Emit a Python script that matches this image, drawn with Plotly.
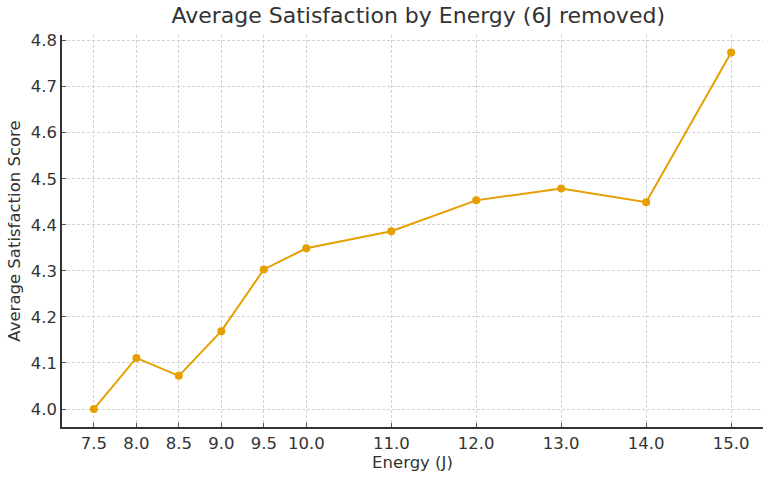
import plotly.graph_objects as go

energy = [7.5, 8.0, 8.5, 9.0, 9.5, 10.0, 11.0, 12.0, 13.0, 14.0, 15.0]
satisfaction = [4.000, 4.111, 4.072, 4.169, 4.303, 4.349, 4.386, 4.453, 4.479, 4.449, 4.774]
x_ticks = [7.5, 8.0, 8.5, 9.0, 9.5, 10.0, 11.0, 12.0, 13.0, 14.0, 15.0]
x_tick_labels = ["7.5", "8.0", "8.5", "9.0", "9.5", "10.0", "11.0", "12.0", "13.0", "14.0", "15.0"]
y_ticks = [4.0, 4.1, 4.2, 4.3, 4.4, 4.5, 4.6, 4.7, 4.8]
y_tick_labels = ["4.0", "4.1", "4.2", "4.3", "4.4", "4.5", "4.6", "4.7", "4.8"]

color = "#E69F00"
txt = "#333333"
font = "DejaVu Sans"
fs = 16.5

fig = go.Figure()
fig.add_trace(go.Scatter(
    x=energy, y=satisfaction, mode="lines+markers",
    line=dict(color=color, width=2),
    marker=dict(color=color, size=8),
    showlegend=False,
))

fig.update_layout(
    width=773, height=479,
    margin=dict(l=62, r=10, t=35, b=52),
    paper_bgcolor="white", plot_bgcolor="white",
    font=dict(family=font, color=txt, size=fs),
    title=dict(text="Average Satisfaction by Energy (6J removed)", x=0.541, xanchor="center",
               y=0.985, yanchor="top", font=dict(size=22, color=txt, family=font)),
)
fig.update_xaxes(
    range=[7.125, 15.375], tickvals=x_ticks, ticktext=x_tick_labels,
    showgrid=True, gridcolor="#d3d3d3", griddash="3px,2px", gridwidth=1,
    showline=True, linecolor="#333333", linewidth=1.5, mirror=False,
    ticks="inside", ticklen=4, tickcolor="#555555",
    tickfont=dict(size=fs, color=txt, family=font),
    title=dict(text="Energy (J)", font=dict(size=fs, color=txt, family=font), standoff=4),
    zeroline=False,
)
fig.update_yaxes(
    range=[3.961, 4.812], tickvals=y_ticks, ticktext=y_tick_labels,
    showgrid=True, gridcolor="#d3d3d3", griddash="3px,2px", gridwidth=1,
    showline=True, linecolor="#333333", linewidth=1.5, mirror=False,
    ticks="inside", ticklen=4, tickcolor="#555555",
    tickfont=dict(size=fs, color=txt, family=font),
    title=dict(text="Average Satisfaction Score", font=dict(size=fs, color=txt, family=font), standoff=6),
    zeroline=False,
)

fig.write_html("out.html")
